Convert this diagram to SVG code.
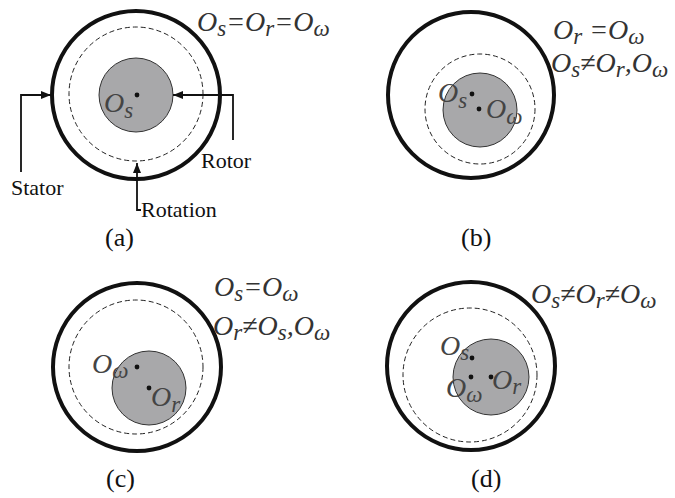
<svg xmlns="http://www.w3.org/2000/svg" width="675" height="498" viewBox="0 0 675 498">
<defs>
<marker id="ah" viewBox="0 0 10 8" refX="10" refY="4" markerWidth="10" markerHeight="8" markerUnits="userSpaceOnUse" orient="auto">
<path d="M0,0 L10,4 L0,8 z" fill="#111"/>
</marker>
</defs>
<style>
.stator{fill:none;stroke:#111;stroke-width:4}
.dash{fill:none;stroke:#222;stroke-width:1;stroke-dasharray:5,3}
.rotor{fill:#a8a8aa;stroke:#333;stroke-width:1}
.dot{fill:#111}
.eq{font-family:"Liberation Serif",serif;font-style:italic;font-size:28px;fill:#333}
.sub{font-size:23px}
.lbl{font-family:"Liberation Serif",serif;font-size:22px;fill:#111}
.cap{font-family:"Liberation Serif",serif;font-size:26px;fill:#111}
.in{font-family:"Liberation Serif",serif;font-style:italic;font-size:28px;fill:#444}
.conn{fill:none;stroke:#111;stroke-width:1.8}
</style>

<g id="panel-a">
<circle class="stator" cx="136" cy="95" r="84"/>
<circle class="dash" cx="136" cy="94" r="67"/>
<circle class="rotor" cx="136" cy="95" r="37"/>
<circle class="dot" cx="137" cy="95" r="2.4"/>
<text class="in" x="104" y="112">O<tspan class="sub" dy="6">s</tspan></text>
<text class="eq" x="197" y="31">O<tspan class="sub" dy="5">s</tspan><tspan dy="-5">=O</tspan><tspan class="sub" dy="5">r</tspan><tspan dy="-5">=O</tspan><tspan class="sub" dy="5">ω</tspan></text>
<text class="lbl" x="11" y="195">Stator</text>
<text class="lbl" x="201" y="168">Rotor</text>
<text class="lbl" x="141" y="217">Rotation</text>
<text class="cap" x="105" y="246">(a)</text>
</g>

<g id="panel-b">
<circle class="stator" cx="471" cy="95" r="83"/>
<circle class="dash" cx="480" cy="109" r="55"/>
<circle class="rotor" cx="480" cy="110" r="37"/>
<circle class="dot" cx="472" cy="94" r="2.4"/>
<circle class="dot" cx="479" cy="109" r="2.4"/>
<text class="in" x="438" y="102">O<tspan class="sub" dy="6">s</tspan></text>
<text class="in" x="486" y="118">O<tspan class="sub" dy="6">ω</tspan></text>
<text class="eq" x="553" y="39">O<tspan class="sub" dy="5">r</tspan><tspan dy="-5"> =O</tspan><tspan class="sub" dy="5">ω</tspan></text>
<text class="eq" x="551" y="72">O<tspan class="sub" dy="5">s</tspan><tspan dy="-5">≠O</tspan><tspan class="sub" dy="5">r</tspan><tspan dy="-5">,O</tspan><tspan class="sub" dy="5">ω</tspan></text>
<text class="cap" x="461" y="246">(b)</text>
</g>

<g id="panel-c">
<circle class="stator" cx="137" cy="367" r="84"/>
<circle class="dash" cx="136" cy="367" r="67"/>
<circle class="rotor" cx="149" cy="388" r="37"/>
<circle class="dot" cx="137" cy="367" r="2.4"/>
<circle class="dot" cx="149" cy="388" r="2.4"/>
<text class="in" x="92" y="373">O<tspan class="sub" dy="5">ω</tspan></text>
<text class="in" x="151" y="406">O<tspan class="sub" dy="6">r</tspan></text>
<text class="eq" x="214" y="296">O<tspan class="sub" dy="5">s</tspan><tspan dy="-5">=O</tspan><tspan class="sub" dy="5">ω</tspan></text>
<text class="eq" x="213" y="335">O<tspan class="sub" dy="5">r</tspan><tspan dy="-5">≠O</tspan><tspan class="sub" dy="5">s</tspan><tspan dy="-5">,O</tspan><tspan class="sub" dy="5">ω</tspan></text>
<text class="cap" x="106" y="487">(c)</text>
</g>

<g id="panel-d">
<circle class="stator" cx="471" cy="366" r="84"/>
<circle class="dash" cx="470" cy="375" r="67"/>
<circle class="rotor" cx="491" cy="377" r="38"/>
<circle class="dot" cx="472" cy="358" r="2.4"/>
<circle class="dot" cx="471" cy="377" r="2.4"/>
<circle class="dot" cx="491" cy="377" r="2.4"/>
<text class="in" x="440" y="355">O<tspan class="sub" dy="5">s</tspan></text>
<text class="in" x="446" y="397">O<tspan class="sub" dy="5">ω</tspan></text>
<text class="in" x="492" y="389">O<tspan class="sub" dy="5">r</tspan></text>
<text class="eq" x="531" y="303">O<tspan class="sub" dy="5">s</tspan><tspan dy="-5">≠O</tspan><tspan class="sub" dy="5">r</tspan><tspan dy="-5">≠O</tspan><tspan class="sub" dy="5">ω</tspan></text>
<text class="cap" x="471" y="487">(d)</text>
</g>

<g id="connectors">
<path class="conn" d="M21,172 V95 H51" marker-end="url(#ah)"/>
<path class="conn" d="M233,140 V95 H173" marker-end="url(#ah)"/>
<path class="conn" d="M141,210 H137 V163" marker-end="url(#ah)"/>
</g>
</svg>
